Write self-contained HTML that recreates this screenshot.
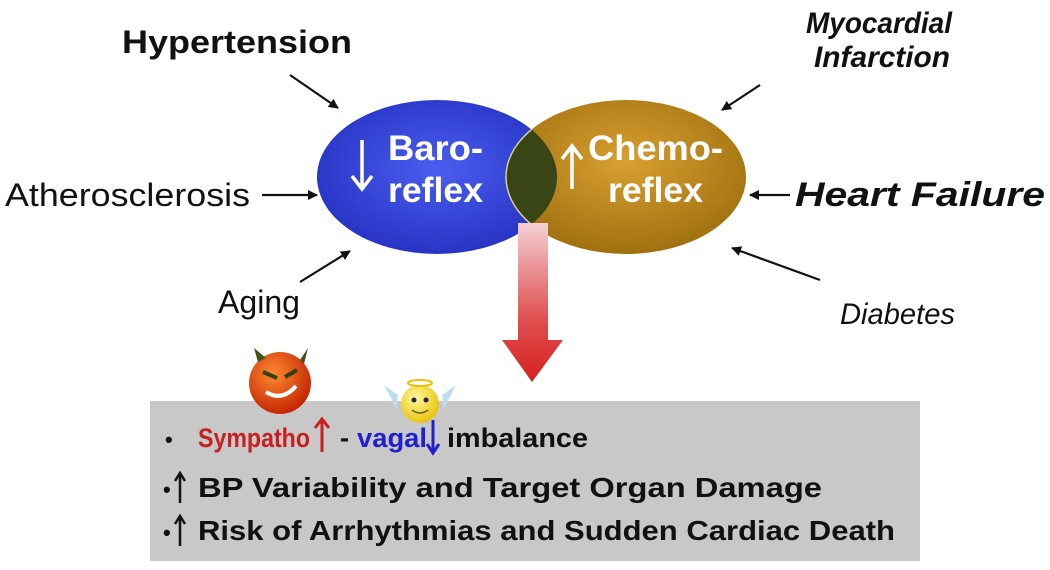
<!DOCTYPE html>
<html><head><meta charset="utf-8"><style>
body{margin:0;width:1050px;height:565px;background:#fff;overflow:hidden;font-family:"Liberation Sans",sans-serif}
</style></head><body>
<svg width="1050" height="565" viewBox="0 0 1050 565" xmlns="http://www.w3.org/2000/svg" font-family="Liberation Sans, sans-serif">
<defs>
<radialGradient id="bl" cx="0.5" cy="0.45" r="0.6"><stop offset="0" stop-color="#4a5ef0"/><stop offset="1" stop-color="#2430c0"/></radialGradient>
<radialGradient id="gd" cx="0.5" cy="0.4" r="0.6"><stop offset="0" stop-color="#d9a030"/><stop offset="1" stop-color="#a07010"/></radialGradient>
<linearGradient id="ar" x1="0" y1="0" x2="0" y2="1"><stop offset="0" stop-color="#f4d0d4"/><stop offset="0.6" stop-color="#e05050"/><stop offset="1" stop-color="#d82020"/></linearGradient>
<clipPath id="cb"><ellipse cx="437" cy="177" rx="120" ry="77"/></clipPath>
<marker id="m" markerWidth="10" markerHeight="10" refX="9" refY="5" orient="auto" markerUnits="userSpaceOnUse"><path d="M0,0 L10,5 L0,10 z" fill="#111"/></marker>
<radialGradient id="dv" cx="0.4" cy="0.35" r="0.7"><stop offset="0" stop-color="#ff8a30"/><stop offset="1" stop-color="#c02000"/></radialGradient>
<radialGradient id="an" cx="0.4" cy="0.35" r="0.7"><stop offset="0" stop-color="#fff8a0"/><stop offset="1" stop-color="#e8c000"/></radialGradient>
</defs>
<ellipse cx="437" cy="177" rx="120" ry="77" fill="url(#bl)"/>
<ellipse cx="626" cy="177" rx="120" ry="77" fill="url(#gd)"/>
<ellipse cx="626" cy="177" rx="120" ry="77" fill="#3a4515" clip-path="url(#cb)" stroke="#d8d090" stroke-width="1.5"/>
<path d="M518,223 H548 V340 H563 L532,382 L502,340 H518 Z" fill="url(#ar)"/>
<g fill="#fff" font-size="35" font-weight="bold">
<text x="388" y="160" textLength="95" lengthAdjust="spacingAndGlyphs">Baro-</text>
<text x="388" y="202" textLength="95" lengthAdjust="spacingAndGlyphs">reflex</text>
<text x="588" y="160" textLength="135" lengthAdjust="spacingAndGlyphs">Chemo-</text>
<text x="608" y="202" textLength="95" lengthAdjust="spacingAndGlyphs">reflex</text>
</g>
<path d="M362,140 V188 M352,176 L362,189 L372,176" stroke="#fff" stroke-width="3.5" fill="none"/>
<path d="M572,189 V147 M562,159 L572,146 L582,159" stroke="#fff" stroke-width="3.5" fill="none"/>
<g stroke="#111" stroke-width="2.2" marker-end="url(#m)">
<line x1="290" y1="75" x2="338" y2="108"/>
<line x1="262" y1="195" x2="317" y2="195"/>
<line x1="300" y1="282" x2="350" y2="251"/>
<line x1="760" y1="85" x2="722" y2="110"/>
<line x1="790" y1="195" x2="750" y2="195"/>
<line x1="820" y1="280" x2="732" y2="248"/>
</g>
<g fill="#111" font-size="32">
<text x="122" y="53" font-weight="bold" textLength="230" lengthAdjust="spacingAndGlyphs">Hypertension</text>
<text x="5" y="206" textLength="245" lengthAdjust="spacingAndGlyphs">Atherosclerosis</text>
<text x="218" y="313" textLength="82" lengthAdjust="spacingAndGlyphs">Aging</text>
<text x="806" y="33" font-size="30" font-weight="bold" font-style="italic" textLength="146" lengthAdjust="spacingAndGlyphs">Myocardial</text>
<text x="814" y="67" font-size="30" font-weight="bold" font-style="italic" textLength="136" lengthAdjust="spacingAndGlyphs">Infarction</text>
<text x="795" y="206" font-size="34" font-weight="bold" font-style="italic" textLength="250" lengthAdjust="spacingAndGlyphs">Heart Failure</text>
<text x="840" y="324" font-size="30" font-style="italic" textLength="115" lengthAdjust="spacingAndGlyphs">Diabetes</text>
</g>
<rect x="150" y="401" width="770" height="160" fill="#c8c8c8"/>
<g font-size="27" font-weight="bold" fill="#111">
<text x="165" y="447" font-size="22">•</text>
<text x="198" y="447" fill="#c82020" textLength="112" lengthAdjust="spacingAndGlyphs">Sympatho</text>
<path d="M322,452 V420 M315,428 L322,419 L329,428" stroke="#c82020" stroke-width="3" fill="none"/>
<text x="340" y="447">-</text>
<text x="357" y="447" fill="#2020d0" textLength="70" lengthAdjust="spacingAndGlyphs">vagal</text>
<path d="M433,420 V452 M427,444 L433,453 L439,444" stroke="#2020d0" stroke-width="3" fill="none"/>
<text x="447" y="447" textLength="141" lengthAdjust="spacingAndGlyphs">imbalance</text>
<text x="163" y="497" font-size="22">•</text>
<path d="M180,503 V474 M175,481 L180,473 L185,481" stroke="#111" stroke-width="2.5" fill="none"/>
<text x="198" y="497" font-size="28" textLength="624" lengthAdjust="spacingAndGlyphs">BP Variability and Target Organ Damage</text>
<text x="163" y="540" font-size="22">•</text>
<path d="M180,546 V517 M175,524 L180,516 L185,524" stroke="#111" stroke-width="2.5" fill="none"/>
<text x="198" y="540" font-size="28" textLength="697" lengthAdjust="spacingAndGlyphs">Risk of Arrhythmias and Sudden Cardiac Death</text>
</g>
<circle cx="280" cy="383" r="31" fill="url(#dv)"/>
<path d="M258,362 L254,348 L266,358 Z M300,360 L308,348 L304,364 Z" fill="#445018"/>
<path d="M263,372 L277,378 M297,370 L285,377" stroke="#304010" stroke-width="4"/>
<path d="M266,392 Q282,402 296,386" stroke="#fff" stroke-width="4" fill="none"/>
<path d="M398,395 L384,385 L396,408 Z M442,395 L456,385 L444,408 Z" fill="#bde0f0"/>
<circle cx="420" cy="404" r="19" fill="url(#an)"/>
<ellipse cx="420" cy="383" rx="12" ry="3" fill="none" stroke="#e8c000" stroke-width="2"/>
<circle cx="414" cy="400" r="2.5" fill="#224"/><circle cx="426" cy="400" r="2.5" fill="#224"/>
<path d="M412,410 Q420,416 428,410" stroke="#663" stroke-width="1.5" fill="none"/>
</svg>
</body></html>
